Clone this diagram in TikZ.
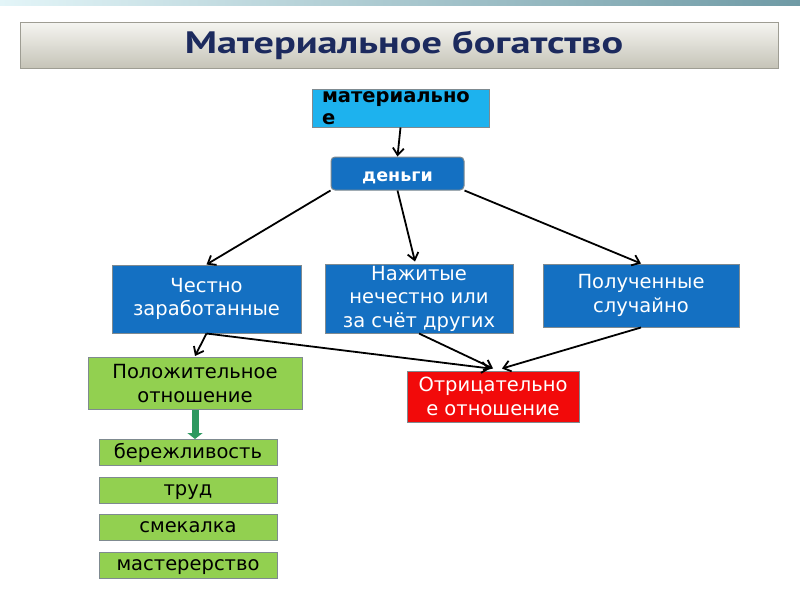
\documentclass[tikz,border=0pt]{standalone}
\usepackage{fontspec}
\setmainfont{DejaVu Sans}
\newfontfamily\titlefont{PT Sans}[FakeStretch=1.3]
\usetikzlibrary{arrows.meta}
\definecolor{topleft}{HTML}{E3F5F8}
\definecolor{topright}{HTML}{6F9AA5}
\definecolor{titlenavy}{HTML}{1C2A5E}
\definecolor{bartop}{HTML}{F5F5F1}
\definecolor{barbottom}{HTML}{C6C4B8}
\definecolor{matcyan}{HTML}{1DB2EE}
\definecolor{boxblue}{HTML}{1470C2}
\definecolor{boxgreen}{HTML}{92D050}
\definecolor{boxred}{HTML}{F20A0A}
\definecolor{boxline}{HTML}{7F8A90}
\definecolor{arrowgreen}{HTML}{2E9960}
\begin{document}
\begin{tikzpicture}[x=1pt,y=-1pt,
  box/.style={draw=boxline,line width=1pt,inner sep=0pt,align=center,
    font=\fontsize{19.5}{23.5}\selectfont},
  bluebox/.style={box,fill=boxblue,text=white},
  greenbox/.style={box,fill=boxgreen,text=black},
  smallbox/.style={greenbox,minimum width=178pt,minimum height=26pt,
    text height=14pt,text depth=3pt,font=\fontsize{19.5}{22}\selectfont},
  arr/.style={line width=1.8pt,
    -{Straight Barb[length=7pt,width=11pt,line width=1.8pt]}}]
\useasboundingbox (0,0) rectangle (800,600);
\fill[white] (0,0) rectangle (800,600);
% strip at the top
\shade[left color=topleft,right color=topright] (0,0) rectangle (800,5);
% title
\node[draw=barbottom!80!black,line width=0.6pt,top color=bartop,bottom color=barbottom,
  minimum width=758pt,minimum height=46pt,inner sep=0pt,text=titlenavy,
  font=\titlefont\bfseries\fontsize{31}{34}\selectfont] (title) at (399,45)
  {\hspace*{10pt}Материальное богатство};
% top of the tree
\node[box,fill=matcyan,minimum width=177pt,minimum height=38pt,text width=157pt,
  align=left,font=\bfseries\fontsize{19.5}{22}\selectfont] (mat) at (400.5,108)
  {материально\\е};
\node[box,fill=boxblue,text=white,rounded corners=4pt,minimum width=133pt,
  minimum height=33pt,text height=16pt,text depth=0pt,
  font=\bfseries\fontsize{17.5}{20}\selectfont] (den) at (397.5,173.5)
  {деньги};
% three kinds of money
\node[bluebox,minimum width=189pt,minimum height=68pt] (chest) at (206.5,299)
  {Честно\\заработанные};
\node[bluebox,minimum width=188pt,minimum height=69pt] (nazh) at (419,298.5)
  {Нажитые\\нечестно или\\за счёт других};
\node[bluebox,minimum width=196pt,minimum height=63pt] (polu) at (641,295.5)
  {Полученные\\случайно};
% attitudes
\node[greenbox,minimum width=214pt,minimum height=52pt] (pos) at (195,383.5)
  {Положительное\\отношение};
\node[box,fill=boxred,text=white,minimum width=172pt,minimum height=51pt] (otr) at (493,396.5)
  {Отрицательно\\е отношение};
% qualities
\node[smallbox] (q1) at (188,452.5) {бережливость};
\node[smallbox] (q2) at (188,490) {труд};
\node[smallbox] (q3) at (188,527) {смекалка};
\node[smallbox] (q4) at (188,565) {мастерерство};
% connectors
\draw[arr] (mat.south) -- (den.north);
\draw[arr] (den.south west) -- (chest.north);
\draw[arr] (den.south) -- ([xshift=-4pt,yshift=2pt]nazh.north);
\draw[arr] (den.south east) -- (polu.north);
\draw[arr] (chest.south) -- ([yshift=1pt]pos.north);
\draw[arr] (chest.south) -- ([xshift=-3pt,yshift=2pt]otr.north);
\draw[arr] (nazh.south) -- ([yshift=2pt]otr.north);
\draw[arr] (polu.south) -- ([xshift=9pt,yshift=2pt]otr.north);
\draw[arrowgreen,line width=7pt,-{Triangle[length=6pt,width=15pt]}]
  (pos.south) -- (pos.south |- q1.north);
\end{tikzpicture}
\end{document}
